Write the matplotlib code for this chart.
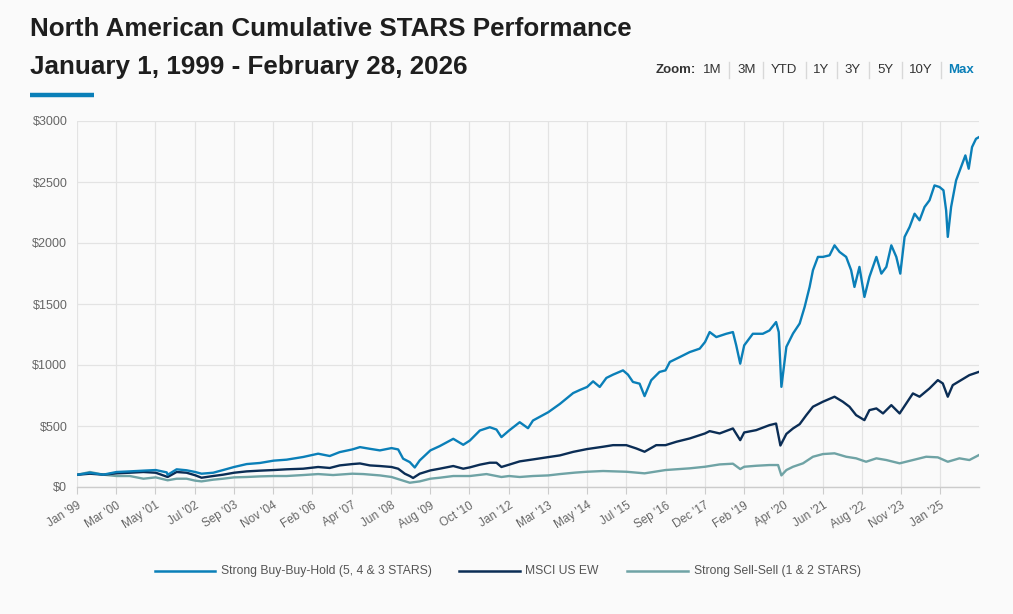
import matplotlib
matplotlib.use("Agg")
import matplotlib.pyplot as plt
from matplotlib.lines import Line2D
import numpy as np

plt.rcParams['font.family'] = ['Liberation Sans', 'DejaVu Sans']

# ---------------- data (fractional years, dollars) ----------------
buy_t = [1999.0, 1999.39, 1999.79, 2000.19, 2000.59, 2001.0, 2001.37, 2001.70, 2001.73, 2002.0,
         2002.30, 2002.56, 2002.75, 2003.10, 2003.40, 2003.73, 2004.11, 2004.51, 2004.92, 2005.31,
         2005.81, 2006.26, 2006.61, 2006.91, 2007.29, 2007.52, 2007.82, 2008.12, 2008.47, 2008.67,
         2008.82, 2009.02, 2009.17, 2009.32, 2009.64, 2009.92, 2010.33, 2010.63, 2010.83, 2011.13,
         2011.43, 2011.63, 2011.78, 2012.01, 2012.33, 2012.58, 2012.73, 2013.19, 2013.54, 2013.94,
         2014.14, 2014.36, 2014.54, 2014.74, 2014.94, 2015.14, 2015.44, 2015.59, 2015.74, 2015.94,
         2016.09, 2016.29, 2016.54, 2016.72, 2016.85, 2017.15, 2017.45, 2017.75, 2017.91, 2018.05,
         2018.25, 2018.55, 2018.75, 2018.85, 2018.97, 2019.09, 2019.35, 2019.65, 2019.85, 2020.05,
         2020.13, 2020.21, 2020.36, 2020.56, 2020.76, 2020.91, 2021.06, 2021.16, 2021.31, 2021.46,
         2021.66, 2021.81, 2021.96, 2022.16, 2022.31, 2022.41, 2022.56, 2022.71, 2022.86, 2023.07,
         2023.22, 2023.37, 2023.52, 2023.67, 2023.79, 2023.92, 2024.07, 2024.22, 2024.37, 2024.52,
         2024.67, 2024.82, 2024.97, 2025.09, 2025.17, 2025.22, 2025.32, 2025.47, 2025.62, 2025.75,
         2025.85, 2025.95, 2026.07, 2026.16]
buy_v = [100, 117, 101, 123, 128, 134, 139, 120, 100, 145,
         137, 123, 109, 117, 139, 164, 188, 197, 216, 224,
         246, 273, 254, 286, 308, 327, 313, 300, 319, 308,
         232, 204, 160, 218, 300, 335, 395, 346, 381, 463,
         490, 471, 409, 463, 531, 482, 545, 613, 681, 770,
         795, 820, 866, 820, 894, 921, 956, 921, 861, 847,
         745, 875, 943, 956, 1025, 1065, 1106, 1134, 1188, 1270,
         1229, 1256, 1270, 1161, 1011, 1161, 1256, 1256, 1283, 1352,
         1270, 821, 1149, 1258, 1340, 1476, 1640, 1777, 1886, 1886,
         1899, 1981, 1927, 1886, 1777, 1640, 1804, 1558, 1722, 1886,
         1749, 1804, 1981, 1886, 1749, 2050, 2131, 2240, 2186, 2295,
         2350, 2472, 2459, 2432, 2268, 2050, 2295, 2513, 2623, 2718,
         2609, 2786, 2854, 2868]

msci_t = [1999.0, 1999.39, 1999.79, 2000.19, 2000.59, 2001.0, 2001.37, 2001.73, 2002.0, 2002.30,
          2002.56, 2002.75, 2003.10, 2003.40, 2003.73, 2004.11, 2004.51, 2004.92, 2005.31, 2005.81,
          2006.26, 2006.61, 2006.91, 2007.29, 2007.52, 2007.82, 2008.12, 2008.47, 2008.67, 2008.87,
          2009.02, 2009.12, 2009.32, 2009.64, 2009.92, 2010.33, 2010.63, 2010.83, 2011.13, 2011.43,
          2011.63, 2011.78, 2012.01, 2012.33, 2012.73, 2013.19, 2013.54, 2013.94, 2014.36, 2014.84,
          2015.14, 2015.54, 2015.84, 2016.09, 2016.44, 2016.72, 2017.05, 2017.45, 2017.91, 2018.05,
          2018.35, 2018.75, 2018.97, 2019.09, 2019.45, 2019.85, 2020.05, 2020.18, 2020.36, 2020.56,
          2020.76, 2020.96, 2021.16, 2021.46, 2021.81, 2022.06, 2022.26, 2022.46, 2022.71, 2022.86,
          2023.07, 2023.27, 2023.52, 2023.77, 2023.97, 2024.17, 2024.37, 2024.67, 2024.92, 2025.07,
          2025.22, 2025.37, 2025.62, 2025.87, 2026.16]
msci_v = [100, 109, 101, 112, 117, 123, 117, 82, 123, 117,
          96, 76, 90, 101, 117, 128, 134, 139, 145, 150,
          164, 156, 177, 188, 193, 177, 172, 164, 150, 109,
          90, 74, 109, 136, 150, 172, 150, 161, 183, 199,
          199, 164, 183, 210, 226, 245, 259, 288, 311, 330,
          343, 343, 316, 289, 343, 343, 371, 398, 439, 458,
          439, 480, 384, 447, 466, 507, 520, 340, 435, 480,
          515, 589, 658, 699, 740, 699, 658, 589, 548, 630,
          644, 603, 671, 603, 685, 767, 740, 808, 876, 849,
          740, 835, 876, 917, 944]

sell_t = [1999.0, 1999.39, 1999.79, 2000.19, 2000.59, 2001.0, 2001.37, 2001.73, 2002.0, 2002.30,
          2002.56, 2002.75, 2003.10, 2003.40, 2003.73, 2004.11, 2004.51, 2004.92, 2005.31, 2005.81,
          2006.26, 2006.71, 2007.29, 2007.62, 2008.12, 2008.47, 2008.82, 2009.02, 2009.32, 2009.64,
          2009.92, 2010.33, 2010.83, 2011.33, 2011.78, 2012.01, 2012.33, 2012.73, 2013.19, 2013.54,
          2014.0, 2014.36, 2014.84, 2015.54, 2016.09, 2016.72, 2017.45, 2017.91, 2018.35, 2018.75,
          2018.97, 2019.09, 2019.45, 2019.85, 2020.11, 2020.21, 2020.36, 2020.56, 2020.86, 2021.16,
          2021.46, 2021.81, 2022.16, 2022.46, 2022.76, 2023.07, 2023.37, 2023.77, 2024.17, 2024.57,
          2024.92, 2025.22, 2025.57, 2025.87, 2026.16]
sell_v = [100, 123, 101, 90, 90, 68, 79, 55, 68, 68,
          52, 46, 60, 68, 79, 82, 87, 90, 90, 98,
          106, 98, 109, 106, 95, 82, 52, 35, 46, 68,
          76, 90, 90, 106, 82, 90, 82, 90, 95, 106,
          118, 125, 131, 125, 112, 139, 153, 166, 185, 191,
          147, 166, 174, 180, 180, 95, 139, 166, 194, 248,
          270, 276, 248, 235, 207, 235, 221, 194, 221, 248,
          243, 207, 235, 221, 262]

tick_labels = ["Jan '99", "Mar '00", "May '01", "Jul '02", "Sep '03", "Nov '04", "Feb '06",
               "Apr '07", "Jun '08", "Aug '09", "Oct '10", "Jan '12", "Mar '13", "May '14",
               "Jul '15", "Sep '16", "Dec '17", "Feb '19", "Apr '20", "Jun '21", "Aug '22",
               "Nov '23", "Jan '25"]
y_ticks = [0, 500, 1000, 1500, 2000, 2500, 3000]
series_names = ["Strong Buy-Buy-Hold (5, 4 & 3 STARS)", "MSCI US EW", "Strong Sell-Sell (1 & 2 STARS)"]
zoom_items = ["1M", "3M", "YTD", "1Y", "3Y", "5Y", "10Y", "Max"]

# ---------------- styling ----------------
W, H = 1013, 614
BG = '#fafafa'
C_BUY = '#0a7fb8'
C_MSCI = '#0b2d55'
C_SELL = '#6fa3a5'
GRID = '#e3e3e3'
LABEL = '#666666'

fig = plt.figure(figsize=(W / 100, H / 100), dpi=100, facecolor=BG)


def fx(x):
    return x / W


def fy(y):
    return 1 - y / H


ax = fig.add_axes([fx(77), fy(487), fx(979) - fx(77), fy(121) - fy(487)])
ax.set_facecolor(BG)

ax.plot(sell_t, sell_v, color=C_SELL, lw=1.7, solid_joinstyle='round', zorder=3)
ax.plot(msci_t, msci_v, color=C_MSCI, lw=1.7, solid_joinstyle='round', zorder=4)
ax.plot(buy_t, buy_v, color=C_BUY, lw=1.7, solid_joinstyle='round', zorder=5)

ax.set_xlim(buy_t[0], buy_t[-1])
ax.set_ylim(0, 3000)

xt = np.linspace(1999, 2025, len(tick_labels))
ax.set_xticks(xt)
ax.set_xticklabels(tick_labels, rotation=32, ha='right', va='top', rotation_mode='anchor',
                   fontsize=8.5, color=LABEL)
ax.set_yticks(y_ticks)
ax.set_yticklabels(['$' + str(v) for v in y_ticks], fontsize=9, color=LABEL)

ax.grid(True, color=GRID, lw=0.9)
ax.set_axisbelow(True)
for s in ['top', 'right', 'left']:
    ax.spines[s].set_visible(False)
ax.spines['bottom'].set_color('#cccccc')
ax.spines['bottom'].set_linewidth(1.0)
ax.tick_params(axis='x', length=5, color='#cccccc', pad=4)
ax.tick_params(axis='y', length=0, pad=7)

# ---------------- titles ----------------
fig.text(fx(30), fy(29), "North American Cumulative STARS Performance", fontsize=18.7,
         fontweight='bold', color='#1e1e1e', va='center', ha='left')
fig.text(fx(30), fy(67), "January 1, 1999 - February 28, 2026", fontsize=18.7,
         fontweight='bold', color='#1e1e1e', va='center', ha='left')
fig.add_artist(Line2D([fx(30), fx(94)], [fy(95), fy(95)], color=C_BUY, lw=3.2,
                      solid_capstyle='butt'))

# ---------------- zoom buttons ----------------
fig.text(fx(656), fy(70), "Zoom:", fontsize=9.5, fontweight='bold', color='#333333',
         va='center', ha='left')
zoom_x = [712.5, 746.3, 784, 821, 853, 885, 920.5, 960.5]
sep_x = [729.3, 763.3, 805.7, 837.3, 869.3, 901.7, 940.7]
for lab, xx in zip(zoom_items, zoom_x):
    is_max = lab == "Max"
    fig.text(fx(xx), fy(70), lab, fontsize=9.5, color=C_BUY if is_max else '#333333',
             fontweight='bold' if is_max else 'normal', va='center', ha='center')
for sx in sep_x:
    fig.add_artist(Line2D([fx(sx), fx(sx)], [fy(62), fy(78)], color='#d8d8d8', lw=1.0))

# ---------------- legend ----------------
leg = [(155, 215, 221, C_BUY), (459, 520, 525, C_MSCI), (627, 688, 694, C_SELL)]
for (x0, x1, xt0, c), name in zip(leg, series_names):
    fig.add_artist(Line2D([fx(x0), fx(x1)], [fy(571), fy(571)], color=c, lw=1.8))
    fig.text(fx(xt0), fy(571), name, fontsize=8.7, color='#555555', va='center', ha='left')

fig.savefig('out.png', dpi=100, facecolor=BG)
